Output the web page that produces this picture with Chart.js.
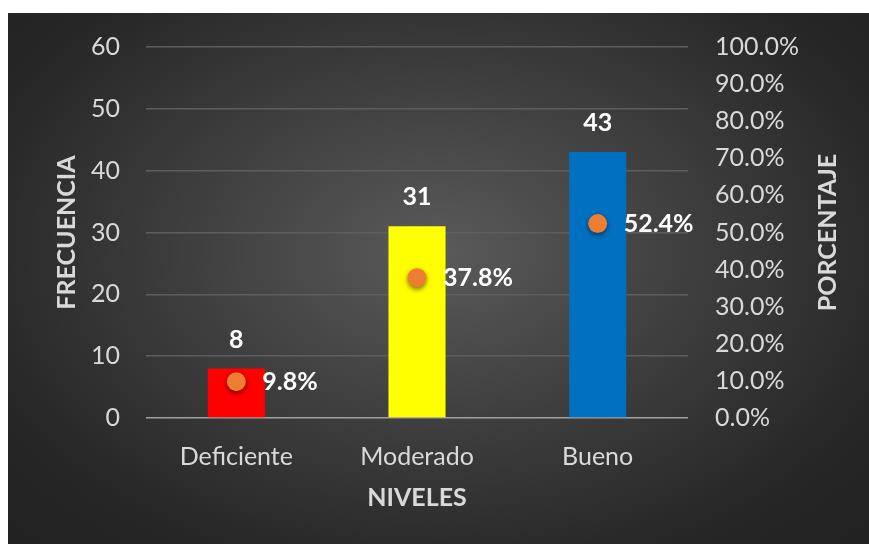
<!DOCTYPE html>
<html>
<head>
<meta charset="utf-8">
<script src="https://cdn.jsdelivr.net/npm/chart.js@4.4.1/dist/chart.umd.min.js"></script>
<style>
  html, body { margin: 0; padding: 0; background: #ffffff; }
  #wrap {
    position: absolute;
    left: 8px;
    top: 13px;
    width: 861px;
    height: 531px;
    background: radial-gradient(ellipse farthest-corner at 50% 45%, #5a5a5a 0%, #3c3c3c 45%, #262626 80%, #222222 100%);
  }
</style>
</head>
<body>
<div id="wrap"><canvas id="chart" width="861" height="531"></canvas></div>
<script>
const niveles = ['Deficiente', 'Moderado', 'Bueno'];
const frecuencia = [8, 31, 43];
const porcentaje = [9.8, 37.8, 52.4];
const barColors = ['#ff0000', '#ffff00', '#0070c0'];

const FONT = 'Lato';
const tickColor = '#d9d9d9';

// value labels above the bars and to the right of the points,
// plus the right-hand axis title (reads bottom to top)
const labelsPlugin = {
  id: 'labels',
  beforeDatasetDraw(chart, args) {
    if (args.index === 1) {
      const ctx = chart.ctx;
      ctx.save();
      ctx.shadowColor = 'rgba(0,0,0,0.55)';
      ctx.shadowBlur = 5;
      ctx.shadowOffsetY = 2;
    }
  },
  afterDatasetDraw(chart, args) {
    if (args.index === 1) chart.ctx.restore();
  },
  afterDatasetsDraw(chart) {
    const ctx = chart.ctx;
    ctx.save();
    ctx.fillStyle = '#ffffff';
    ctx.font = `bold 25px ${FONT}`;
    ctx.textBaseline = 'middle';

    ctx.textAlign = 'center';
    chart.getDatasetMeta(0).data.forEach((bar, i) => {
      ctx.fillText(String(frecuencia[i]), bar.x, bar.y - 29);
    });

    ctx.textAlign = 'left';
    chart.getDatasetMeta(1).data.forEach((pt, i) => {
      ctx.fillText(porcentaje[i].toFixed(1) + '%', pt.x + 26, pt.y);
    });

    const area = chart.chartArea;
    ctx.fillStyle = tickColor;
    ctx.textAlign = 'center';
    ctx.translate(820, (area.top + area.bottom) / 2);
    ctx.rotate(-Math.PI / 2);
    ctx.fillText('PORCENTAJE', 0, 0);
    ctx.restore();
  },
};

// fixed axis boxes so the plot area lands where it should
const fixWidth = (w) => (s) => {
  s.width = w;
  s.paddingTop = 0;
  s.paddingBottom = 0;
};

new Chart(document.getElementById('chart'), {
  type: 'bar',
  data: {
    labels: niveles,
    datasets: [{
      type: 'bar',
      data: frecuencia,
      backgroundColor: barColors,
      categoryPercentage: 1,
      barPercentage: 0.316,
      yAxisID: 'y',
      order: 2,
    }, {
      type: 'line',
      data: porcentaje,
      showLine: false,
      pointRadius: 9.5,
      pointBackgroundColor: '#ed7d31',
      pointBorderWidth: 0,
      yAxisID: 'y1',
      order: 1,
    }],
  },
  options: {
    responsive: false,
    animation: false,
    layout: { padding: { top: 34, left: 0, right: 0, bottom: 0 } },
    plugins: {
      legend: { display: false },
      tooltip: { enabled: false },
    },
    scales: {
      x: {
        grid: { display: false, drawTicks: false },
        border: { display: false },
        ticks: {
          color: tickColor,
          padding: 24,
          font: { family: FONT, size: 25 },
        },
        title: {
          display: true,
          text: 'NIVELES',
          color: tickColor,
          padding: { top: 0, bottom: 31 },
          font: { family: FONT, size: 25, weight: 'bold' },
        },
        afterFit: (s) => {
          s.height = 126;
          s.paddingLeft = 0;
          s.paddingRight = 0;
        },
      },
      y: {
        position: 'left',
        min: 0,
        max: 60,
        border: { display: false },
        grid: {
          drawTicks: false,
          lineWidth: 1.5,
          color: (c) => c.tick && c.tick.value === 0 ? '#a0a0a0' : '#5e5e5e',
        },
        ticks: {
          stepSize: 10,
          color: tickColor,
          padding: 26,
          font: { family: FONT, size: 25 },
        },
        title: {
          display: true,
          text: 'FRECUENCIA',
          color: tickColor,
          padding: { top: 44, bottom: 0 },
          font: { family: FONT, size: 25, weight: 'bold' },
        },
        afterFit: fixWidth(138),
      },
      y1: {
        position: 'right',
        min: 0,
        max: 100,
        border: { display: false },
        grid: { display: false, drawTicks: false },
        ticks: {
          stepSize: 10,
          color: tickColor,
          padding: 27,
          font: { family: FONT, size: 25 },
          callback: (v) => v.toFixed(1) + '%',
        },
        afterFit: fixWidth(181),
      },
    },
  },
  plugins: [labelsPlugin],
});
</script>
</body>
</html>
